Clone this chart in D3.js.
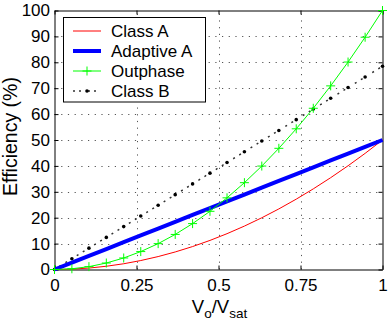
<!DOCTYPE html>
<html>
<head>
<meta charset="utf-8">
<script src="https://cdn.jsdelivr.net/npm/d3@7"></script>
<style>
  body { margin: 0; background: #fff; }
  svg { display: block; font-family: "Liberation Sans", Arial, sans-serif; }
</style>
</head>
<body>
<div id="chart"></div>
<script>
// normalised output voltage (20 samples)
const vo = [0, 0.053, 0.105, 0.158, 0.211, 0.263, 0.316, 0.368, 0.421, 0.474,
            0.526, 0.579, 0.632, 0.684, 0.737, 0.789, 0.842, 0.895, 0.947, 1];
const classA = [0, 0.14, 0.55, 1.25, 2.22, 3.46, 4.99, 6.77, 8.86, 11.23,
                13.83, 16.76, 19.97, 23.39, 27.16, 31.13, 35.45, 40.05, 44.84, 50];
const adaptiveA = [0, 2.65, 5.25, 7.9, 10.55, 13.15, 15.8, 18.4, 21.05, 23.7,
                   26.3, 28.95, 31.6, 34.2, 36.85, 39.45, 42.1, 44.75, 47.35, 50];
const outphase = [0, 0.28, 1.1, 2.5, 4.45, 6.92, 9.99, 13.54, 17.72, 22.47,
                  27.67, 33.52, 39.94, 46.79, 54.32, 62.25, 70.9, 80.1, 89.68, 100];
const classB = [0, 4.16, 8.24, 12.4, 16.56, 20.65, 24.81, 28.89, 33.05, 37.21,
                41.29, 45.45, 49.61, 53.69, 57.85, 61.94, 66.1, 70.26, 74.34, 78.5];

const xTicks = [0, 0.25, 0.5, 0.75, 1];
const xTickLabels = ["0", "0.25", "0.5", "0.75", "1"];
const yTicks = [0, 10, 20, 30, 40, 50, 60, 70, 80, 90, 100];
const legendNames = ["Class A", "Adaptive A", "Outphase", "Class B"];

const width = 390, height = 327;
const margin = { top: 10.5, right: 7.5, bottom: 57.5, left: 54.5 };

const x = d3.scaleLinear().domain([0, 1]).range([margin.left, width - margin.right]);
const y = d3.scaleLinear().domain([0, 100]).range([height - margin.bottom, margin.top]);

const svg = d3.select("#chart").append("svg")
    .attr("width", width)
    .attr("height", height);

// dotted grid
const grid = svg.append("g").attr("stroke", "#555").attr("stroke-width", 1)
    .attr("stroke-dasharray", "1.2,5.5");
grid.selectAll("line.gx").data(xTicks.slice(1, -1)).enter().append("line")
    .attr("x1", d => Math.round(x(d)) + 0.5).attr("x2", d => Math.round(x(d)) + 0.5)
    .attr("y1", y(0)).attr("y2", y(100));
grid.selectAll("line.gy").data(yTicks.slice(1, -1)).enter().append("line")
    .attr("x1", x(0)).attr("x2", x(1))
    .attr("y1", d => Math.round(y(d)) + 0.5).attr("y2", d => Math.round(y(d)) + 0.5);

// axes (ticks inward, box on)
const tickLen = 4;
svg.append("g")
    .attr("transform", `translate(0,${y(0)})`)
    .call(d3.axisBottom(x).tickValues(xTicks).tickFormat((d, i) => xTickLabels[i])
        .tickSizeInner(-tickLen).tickSizeOuter(0).tickPadding(9))
    .call(g => g.selectAll("text").attr("font-size", 17).attr("fill", "#000"));
svg.append("g")
    .attr("transform", `translate(${x(0)},0)`)
    .call(d3.axisLeft(y).tickValues(yTicks).tickSizeInner(-tickLen).tickSizeOuter(0).tickPadding(4.5))
    .call(g => g.selectAll("text").attr("font-size", 17).attr("fill", "#000"));
svg.append("g")
    .attr("transform", `translate(0,${y(100)})`)
    .call(d3.axisTop(x).tickValues(xTicks).tickFormat("").tickSizeInner(-tickLen).tickSizeOuter(0));
svg.append("g")
    .attr("transform", `translate(${x(1)},0)`)
    .call(d3.axisRight(y).tickValues(yTicks).tickFormat("").tickSizeInner(-tickLen).tickSizeOuter(0));
svg.selectAll(".domain").attr("stroke", "#000");
svg.selectAll(".tick line").attr("stroke", "#000");

const line = d3.line().x((d, i) => x(vo[i])).y(d => y(d));

// Class A
svg.append("path").datum(classA).attr("d", line)
    .attr("fill", "none").attr("stroke", "#ff0000").attr("stroke-width", 1);

// Class B (dash-dot restarting at every vertex, dot at each vertex)
const segLen = Math.hypot(x(vo[1]) - x(vo[0]), y(classB[1]) - y(classB[0]));
const dashB = [0, segLen * 0.28, 2, segLen * 0.25, 2, segLen * 0.47 - 4].map(v => v.toFixed(2)).join(",");
svg.append("path").datum(classB).attr("d", line)
    .attr("fill", "none").attr("stroke", "#333").attr("stroke-width", 1.5)
    .attr("stroke-dasharray", dashB);
svg.selectAll("circle.b").data(classB).enter().append("circle")
    .attr("cx", (d, i) => x(vo[i])).attr("cy", d => y(d)).attr("r", 1.8).attr("fill", "#000");

// Adaptive A
svg.append("path").datum(adaptiveA).attr("d", line)
    .attr("fill", "none").attr("stroke", "#0000ff").attr("stroke-width", 4);

// Outphase with + markers
svg.append("path").datum(outphase).attr("d", line)
    .attr("fill", "none").attr("stroke", "#00ff00").attr("stroke-width", 1);
svg.selectAll("path.plus").data(outphase).enter().append("path")
    .attr("d", (d, i) => `M${x(vo[i]) - 4.5},${y(d)}h9M${x(vo[i])},${y(d) - 4.5}v9`)
    .attr("stroke", "#00ff00").attr("stroke-width", 1).attr("fill", "none");

// legend
const lg = svg.append("g");
lg.append("rect").attr("x", 63.5).attr("y", 17.5).attr("width", 142).attr("height", 84.5)
    .attr("fill", "#fff").attr("stroke", "#000").attr("stroke-width", 1);
const ly = d3.scalePoint().domain(legendNames).range([31, 91]);
const sx0 = 73, sx1 = 101, smid = (sx0 + sx1) / 2;
lg.append("line").attr("x1", sx0).attr("x2", sx1).attr("y1", ly("Class A")).attr("y2", ly("Class A"))
    .attr("stroke", "#ff0000").attr("stroke-width", 1);
lg.append("line").attr("x1", sx0).attr("x2", sx1).attr("y1", ly("Adaptive A")).attr("y2", ly("Adaptive A"))
    .attr("stroke", "#0000ff").attr("stroke-width", 4);
lg.append("line").attr("x1", sx0).attr("x2", sx1).attr("y1", ly("Outphase")).attr("y2", ly("Outphase"))
    .attr("stroke", "#00ff00").attr("stroke-width", 1);
lg.append("path").attr("d", `M${smid - 4.5},${ly("Outphase")}h9M${smid},${ly("Outphase") - 4.5}v9`)
    .attr("stroke", "#00ff00").attr("stroke-width", 1);
lg.append("line").attr("x1", sx0).attr("x2", sx1).attr("y1", ly("Class B")).attr("y2", ly("Class B"))
    .attr("stroke", "#333").attr("stroke-width", 1.5).attr("stroke-dasharray", "2,4,2,7");
lg.append("circle").attr("cx", smid).attr("cy", ly("Class B")).attr("r", 1.8).attr("fill", "#000");
lg.selectAll("text").data(legendNames).enter().append("text")
    .attr("x", 111).attr("y", d => ly(d) + 6).attr("font-size", 17).text(d => d);

// axis labels
svg.append("text")
    .attr("transform", `translate(16.5,136.5) rotate(-90)`)
    .attr("text-anchor", "middle").attr("font-size", 19.5).text("Efficiency (%)");
const xl = svg.append("text").attr("x", 219.5).attr("y", 313)
    .attr("text-anchor", "middle").attr("font-size", 18.5);
xl.append("tspan").text("V");
xl.append("tspan").attr("font-size", 13.5).attr("dy", 5).text("o");
xl.append("tspan").attr("dy", -5).text("/V");
xl.append("tspan").attr("font-size", 13.5).attr("dy", 5).text("sat");
</script>
</body>
</html>
